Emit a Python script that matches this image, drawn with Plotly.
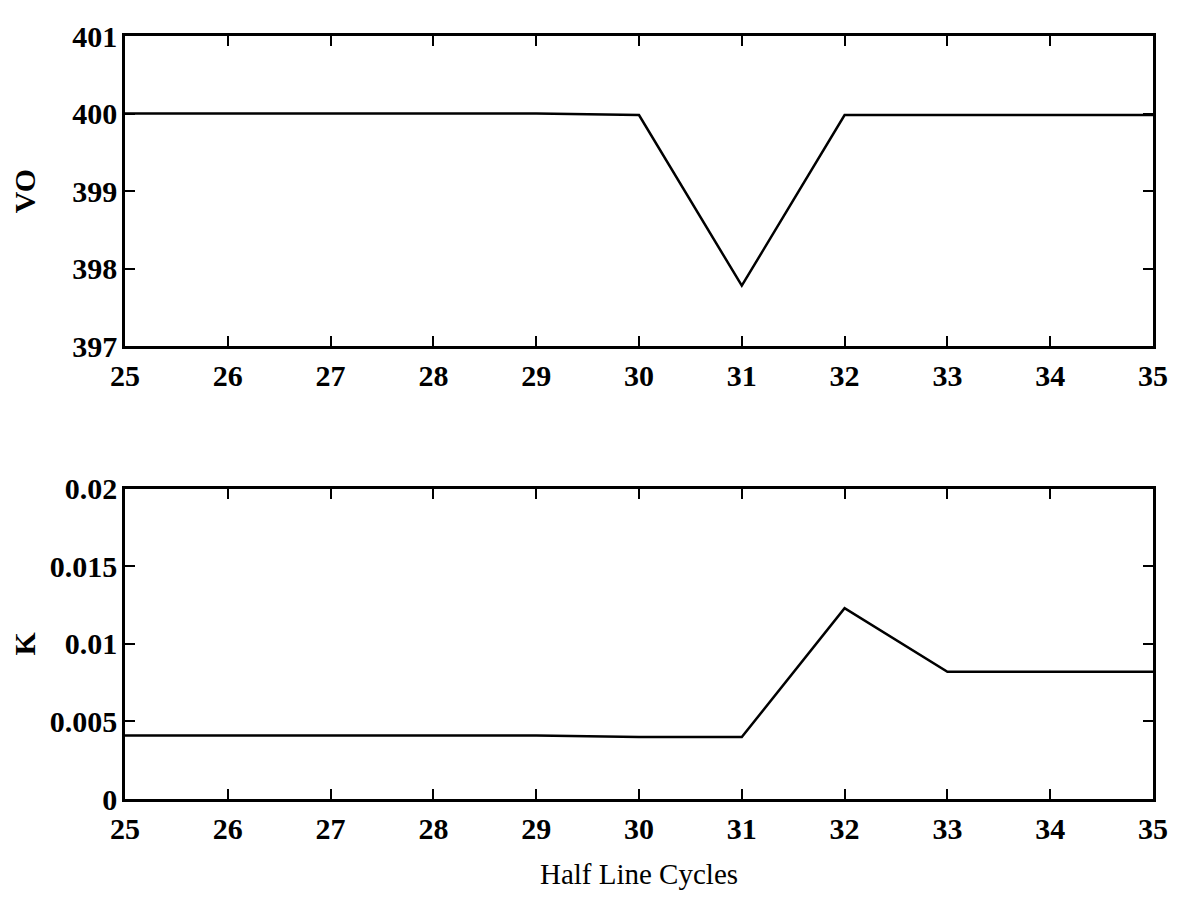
import plotly.graph_objects as go
from plotly.subplots import make_subplots

cycles = [25, 26, 27, 28, 29, 30, 31, 32, 33, 34, 35]
vo = [400.0, 400.0, 400.0, 400.0, 400.0, 399.98, 397.78, 399.98, 399.98, 399.98, 399.98]
k = [0.0041, 0.0041, 0.0041, 0.0041, 0.0041, 0.0040, 0.0040, 0.0123, 0.0082, 0.0082, 0.0082]

x_ticks = list(range(25, 36))
vo_ticks = [397, 398, 399, 400, 401]
k_ticks = [0, 0.005, 0.01, 0.015, 0.02]
k_ticklabels = ["0", "0.005", "0.01", "0.015", "0.02"]

FONT = "Liberation Serif"
tick_font = dict(family=FONT, size=30, color="black", weight="bold")

fig = make_subplots(rows=2, cols=1, vertical_spacing=0.187)
fig.add_trace(go.Scatter(x=cycles, y=vo, mode="lines",
                         line=dict(color="black", width=2.5)), row=1, col=1)
fig.add_trace(go.Scatter(x=cycles, y=k, mode="lines",
                         line=dict(color="black", width=2.5)), row=2, col=1)

axis_common = dict(showline=True, linecolor="black", linewidth=2.5, mirror="ticks",
                   ticks="inside", ticklen=10, tickwidth=1.5, tickcolor="black",
                   showgrid=False, zeroline=False, tickfont=tick_font)

fig.update_xaxes(range=[25, 35], tickvals=x_ticks, ticklabelstandoff=1, **axis_common)
fig.update_yaxes(range=[397, 401], tickvals=vo_ticks, row=1, col=1,
                 ticklabelstandoff=-1,
                 title=dict(text="VO", font=dict(family=FONT, size=30, color="black", weight="bold"),
                            standoff=29),
                 **axis_common)
fig.update_yaxes(range=[0, 0.02], tickvals=k_ticks, ticktext=k_ticklabels, row=2, col=1,
                 ticklabelstandoff=-1,
                 title=dict(text="K", font=dict(family=FONT, size=30, color="black", weight="bold"),
                            standoff=9),
                 **axis_common)
fig.update_xaxes(row=2, col=1,
                 title=dict(text="Half Line Cycles", font=dict(family=FONT, size=29, color="black"),
                            standoff=20))

# the page body has an 8px margin, so the figure is made 8px smaller and
# its left/top margins are reduced to keep the plot areas where the reference has them
fig.update_layout(width=1172, height=889, showlegend=False,
                  paper_bgcolor="white", plot_bgcolor="white",
                  margin=dict(l=110, r=22, t=13, b=90),
                  font=dict(family=FONT, color="black"))

fig.write_html("out.html")
